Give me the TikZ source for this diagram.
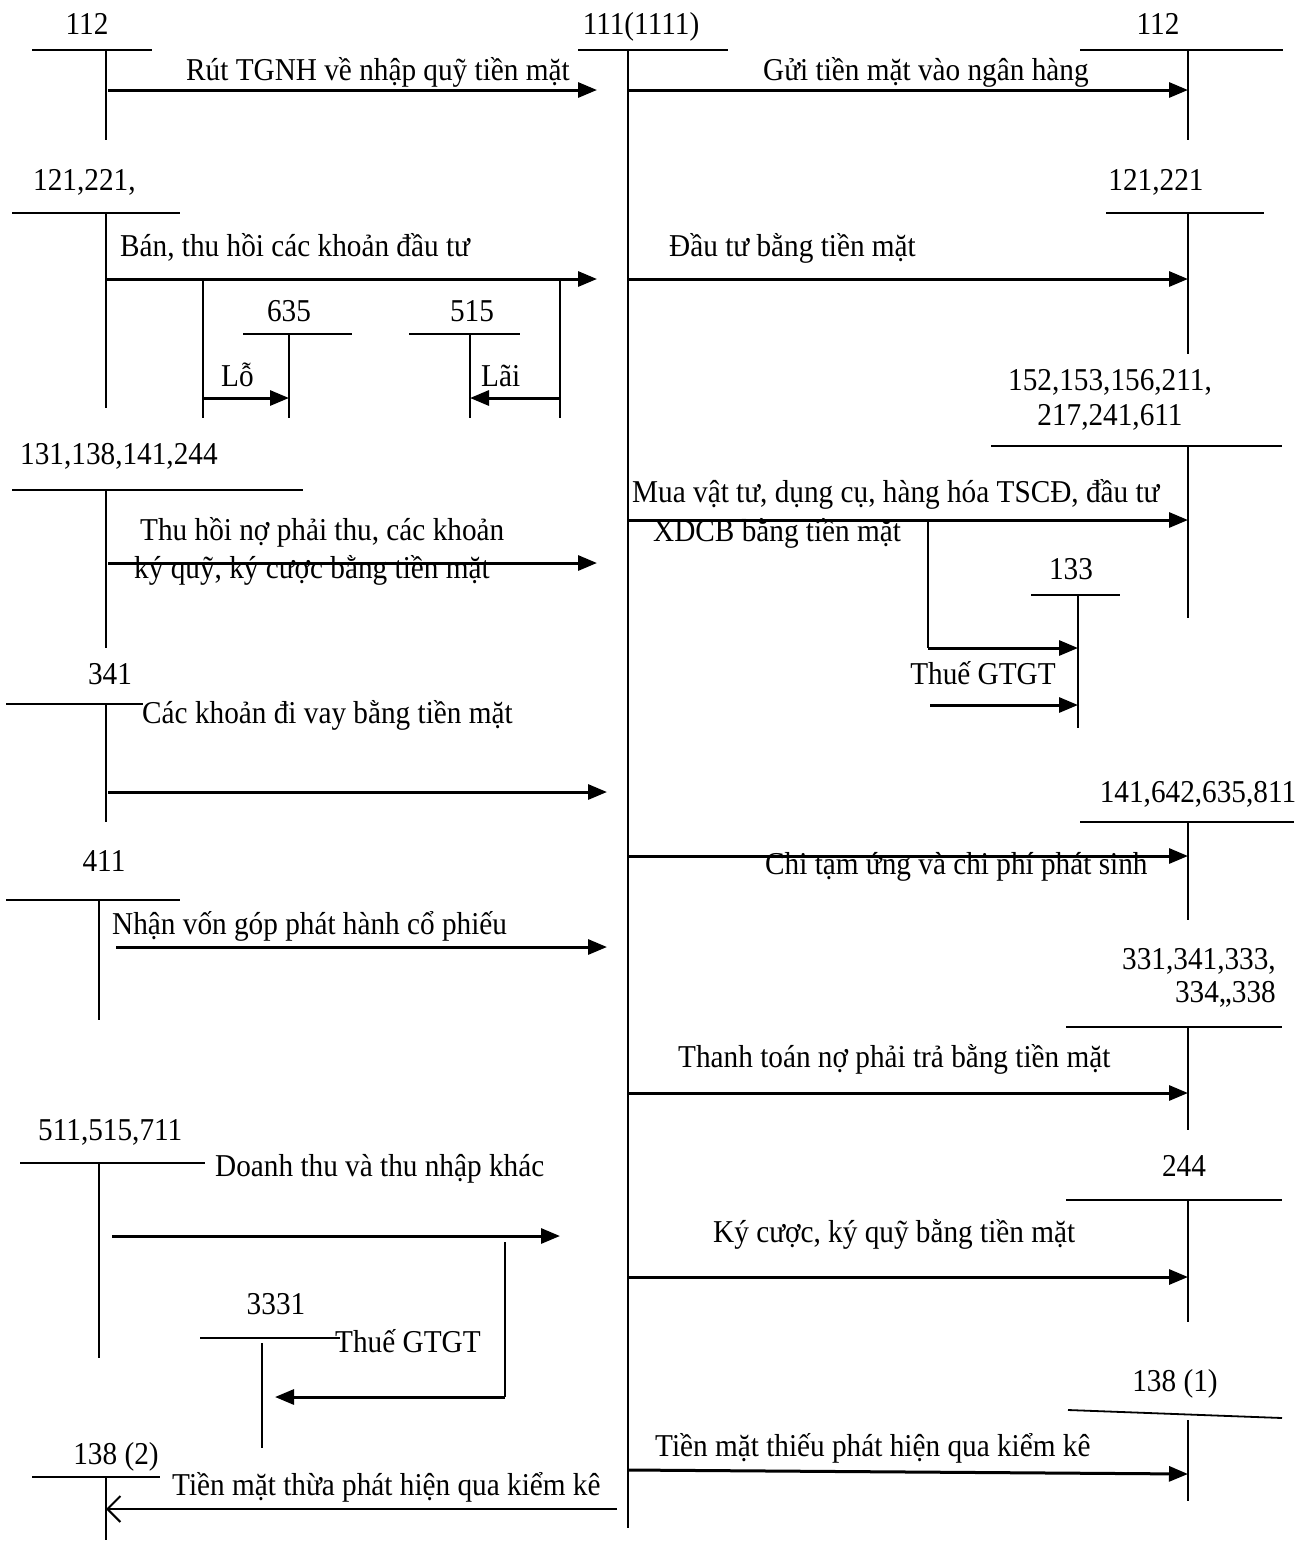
\documentclass[tikz,border=0pt]{standalone}
\usepackage{fontspec}
\setmainfont{Liberation Serif}[FakeStretch=0.92]
\usetikzlibrary{arrows.meta}
\begin{document}
\begin{tikzpicture}[x=1pt,y=-1pt,
  acct/.style={line width=1.8pt},
  flow/.style={line width=3pt,-{Triangle[length=19pt,width=15pt]}},
  openflow/.style={line width=2pt,-{Straight Barb[length=13pt,width=26pt,line width=2pt]}},
  txt/.style={inner sep=0pt,font=\fontsize{31.8}{36}\selectfont},
  ]
\useasboundingbox (0,0) rectangle (1312,1543);

% central cash account 111
\node[txt,anchor=base] (n111) at (641,34) {111(1111)};
\draw[acct] (578,50) coordinate (a111l) -- (728,50) coordinate (a111r);
\draw[acct] (628,50) coordinate (a111j) -- (628,1528) coordinate (a111b);

% 112 (left)
\node[txt,anchor=base] (n112a) at (87,34) {112};
\draw[acct] (32,50) coordinate (a112al) -- (152,50) coordinate (a112ar);
\draw[acct] (106,50) coordinate (a112aj) -- (106,140) coordinate (a112ab);
\coordinate (f1s) at (108,90); \coordinate (f1e) at (597,90);
\draw[flow] (f1s) -- (f1e);
\node[txt,anchor=base west] (t1) at (186,80) {Rút TGNH về nhập quỹ tiền mặt};

% 112 (right)
\node[txt,anchor=base] (n112b) at (1158,34) {112};
\draw[acct] (1080,50) coordinate (a112bl) -- (1283,50) coordinate (a112br);
\draw[acct] (1188,50) coordinate (a112bj) -- (1188,140) coordinate (a112bb);
\coordinate (f2s) at (628,90); \coordinate (f2e) at (1188,90);
\draw[flow] (f2s) -- (f2e);
\node[txt,anchor=base west] (t2) at (763,80) {Gửi tiền mặt vào ngân hàng};

% 121,221 (left) with 635 / 515
\node[txt,anchor=base west] (n121a) at (33,190) {121,221,};
\draw[acct] (12,213) coordinate (a121al) -- (180,213) coordinate (a121ar);
\draw[acct] (106,213) coordinate (a121aj) -- (106,408) coordinate (a121ab);
\coordinate (f3s) at (106,279); \coordinate (f3e) at (597,279);
\draw[flow] (f3s) -- (f3e);
\node[txt,anchor=base west] (t3) at (120,256) {Bán, thu hồi các khoản đầu tư};

\node[txt,anchor=base] (n635) at (289,321) {635};
\draw[acct] (243,334) coordinate (a635l) -- (352,334) coordinate (a635r);
\draw[acct] (289,334) coordinate (a635j) -- (289,418) coordinate (a635b);
\coordinate (k1t) at (203,279); \coordinate (k1b) at (203,418); \coordinate (k1m) at (203,398);
\draw[acct] (k1t) -- (k1b);
\coordinate (f4e) at (289,398);
\draw[flow] (k1m) -- (f4e);
\node[txt,anchor=base west] (t4) at (221,386) {Lỗ};

\node[txt,anchor=base] (n515) at (472,321) {515};
\draw[acct] (409,334) coordinate (a515l) -- (520,334) coordinate (a515r);
\draw[acct] (470,334) coordinate (a515j) -- (470,418) coordinate (a515b);
\coordinate (k2t) at (560,279); \coordinate (k2b) at (560,418); \coordinate (k2m) at (560,398);
\draw[acct] (k2t) -- (k2b);
\coordinate (f5e) at (470,398);
\draw[flow] (k2m) -- (f5e);
\node[txt,anchor=base west] (t5) at (481,386) {Lãi};

% 121,221 (right)
\node[txt,anchor=base] (n121b) at (1156,190) {121,221};
\draw[acct] (1106,213) coordinate (a121bl) -- (1264,213) coordinate (a121br);
\draw[acct] (1188,213) coordinate (a121bj) -- (1188,354) coordinate (a121bb);
\coordinate (f6s) at (628,279); \coordinate (f6e) at (1188,279);
\draw[flow] (f6s) -- (f6e);
\node[txt,anchor=base west] (t6) at (669,256) {Đầu tư bằng tiền mặt};

% 152,... (right) with 133
\node[txt,anchor=base] (n152a) at (1110,390) {152,153,156,211,};
\node[txt,anchor=base] (n152b) at (1110,425) {217,241,611};
\draw[acct] (991,446) coordinate (a152l) -- (1282,446) coordinate (a152r);
\draw[acct] (1188,446) coordinate (a152j) -- (1188,618) coordinate (a152b);
\coordinate (f7s) at (628,520); \coordinate (f7e) at (1188,520);
\draw[flow] (f7s) -- (f7e);
\node[txt,anchor=base west] (t7a) at (632,502) {Mua vật tư, dụng cụ, hàng hóa TSCĐ, đầu tư};
\node[txt,anchor=base west] (t7b) at (653,541) {XDCB bằng tiền mặt};

\node[txt,anchor=base] (n133) at (1071,579) {133};
\draw[acct] (1031,595) coordinate (a133l) -- (1120,595) coordinate (a133r);
\draw[acct] (1078,595) coordinate (a133j) -- (1078,728) coordinate (a133b);
\coordinate (k3t) at (928,520); \coordinate (k3m) at (928,648);
\draw[acct] (k3t) -- (k3m);
\coordinate (f8e) at (1078,648);
\draw[flow] (k3m) -- (f8e);
\node[txt,anchor=base] (t8) at (983,684) {Thuế GTGT};
\coordinate (f9s) at (930,705); \coordinate (f9e) at (1078,705);
\draw[flow] (f9s) -- (f9e);

% 131,138,141,244 (left)
\node[txt,anchor=base west] (n131) at (20,464) {131,138,141,244};
\draw[acct] (12,490) coordinate (a131l) -- (303,490) coordinate (a131r);
\draw[acct] (106,490) coordinate (a131j) -- (106,648) coordinate (a131b);
\node[txt,anchor=base west] (t10a) at (140,540) {Thu hồi nợ phải thu, các khoản};
\node[txt,anchor=base west] (t10b) at (134,578) {ký quỹ, ký cược bằng tiền mặt};
\coordinate (f10s) at (108,563); \coordinate (f10e) at (597,563);
\draw[flow] (f10s) -- (f10e);

% 341 (left)
\node[txt,anchor=base] (n341) at (110,684) {341};
\draw[acct] (6,704) coordinate (a341l) -- (143,704) coordinate (a341r);
\draw[acct] (106,704) coordinate (a341j) -- (106,822) coordinate (a341b);
\node[txt,anchor=base west] (t11) at (142,723) {Các khoản đi vay bằng tiền mặt};
\coordinate (f11s) at (108,792); \coordinate (f11e) at (607,792);
\draw[flow] (f11s) -- (f11e);

% 141,642,635,811 (right)
\node[txt,anchor=base] (n141) at (1198,802) {141,642,635,811};
\draw[acct] (1080,822) coordinate (a141l) -- (1294,822) coordinate (a141r);
\draw[acct] (1188,822) coordinate (a141j) -- (1188,920) coordinate (a141b);
\coordinate (f12s) at (628,856); \coordinate (f12e) at (1188,856);
\draw[flow] (f12s) -- (f12e);
\node[txt,anchor=base west] (t12) at (765,874) {Chi tạm ứng và chi phí phát sinh};

% 411 (left)
\node[txt,anchor=base] (n411) at (104,871) {411};
\draw[acct] (6,900) coordinate (a411l) -- (180,900) coordinate (a411r);
\draw[acct] (99,900) coordinate (a411j) -- (99,1020) coordinate (a411b);
\node[txt,anchor=base west] (t13) at (112,934) {Nhận vốn góp phát hành cổ phiếu};
\coordinate (f13s) at (116,947); \coordinate (f13e) at (607,947);
\draw[flow] (f13s) -- (f13e);

% 331,... (right)
\node[txt,anchor=base east] (n331a) at (1276,969) {331,341,333,};
\node[txt,anchor=base east] (n331b) at (1276,1002) {334,,338};
\draw[acct] (1066,1027) coordinate (a331l) -- (1282,1027) coordinate (a331r);
\draw[acct] (1188,1027) coordinate (a331j) -- (1188,1130) coordinate (a331b);
\node[txt,anchor=base west] (t14) at (678,1067) {Thanh toán nợ phải trả bằng tiền mặt};
\coordinate (f14s) at (628,1093); \coordinate (f14e) at (1188,1093);
\draw[flow] (f14s) -- (f14e);

% 511,515,711 (left) with 3331
\node[txt,anchor=base west] (n511) at (38,1140) {511,515,711};
\draw[acct] (20,1163) coordinate (a511l) -- (205,1163) coordinate (a511r);
\draw[acct] (99,1163) coordinate (a511j) -- (99,1358) coordinate (a511b);
\node[txt,anchor=base west] (t15) at (215,1176) {Doanh thu và thu nhập khác};
\coordinate (f15s) at (112,1236); \coordinate (f15e) at (560,1236);
\draw[flow] (f15s) -- (f15e);

\node[txt,anchor=base] (n3331) at (276,1314) {3331};
\draw[acct] (200,1338) coordinate (a3331l) -- (340,1338) coordinate (a3331r);
\draw[acct] (262,1343) coordinate (a3331j) -- (262,1448) coordinate (a3331b);
\coordinate (k4t) at (505,1242); \coordinate (k4m) at (505,1397);
\draw[acct] (k4t) -- (k4m);
\coordinate (f16e) at (275,1397);
\draw[flow] (k4m) -- (f16e);
\node[txt,anchor=base west] (t16) at (335,1352) {Thuế GTGT};

% 244 (right)
\node[txt,anchor=base] (n244) at (1184,1176) {244};
\draw[acct] (1066,1200) coordinate (a244l) -- (1282,1200) coordinate (a244r);
\draw[acct] (1188,1200) coordinate (a244j) -- (1188,1322) coordinate (a244b);
\node[txt,anchor=base west] (t17) at (713,1242) {Ký cược, ký quỹ bằng tiền mặt};
\coordinate (f17s) at (628,1277); \coordinate (f17e) at (1188,1277);
\draw[flow] (f17s) -- (f17e);

% 138 (1) (right)
\node[txt,anchor=base] (n1381) at (1175,1391) {138 (1)};
\draw[acct] (1068,1410) coordinate (a1381l) -- (1282,1418) coordinate (a1381r);
\draw[acct] (1188,1420) coordinate (a1381j) -- (1188,1501) coordinate (a1381b);
\node[txt,anchor=base west] (t18) at (655,1456) {Tiền mặt thiếu phát hiện qua kiểm kê};
\coordinate (f18s) at (628,1470); \coordinate (f18e) at (1188,1474);
\draw[flow] (f18s) -- (f18e);

% 138 (2) (left)
\node[txt,anchor=base] (n1382) at (116,1464) {138 (2)};
\draw[acct] (32,1477) coordinate (a1382l) -- (160,1477) coordinate (a1382r);
\draw[acct] (106,1477) coordinate (a1382j) -- (106,1540) coordinate (a1382b);
\node[txt,anchor=base west] (t19) at (172,1495) {Tiền mặt thừa phát hiện qua kiểm kê};
\coordinate (f19s) at (617,1509); \coordinate (f19e) at (106,1509);
\draw[openflow] (f19s) -- (f19e);
\end{tikzpicture}
\end{document}
